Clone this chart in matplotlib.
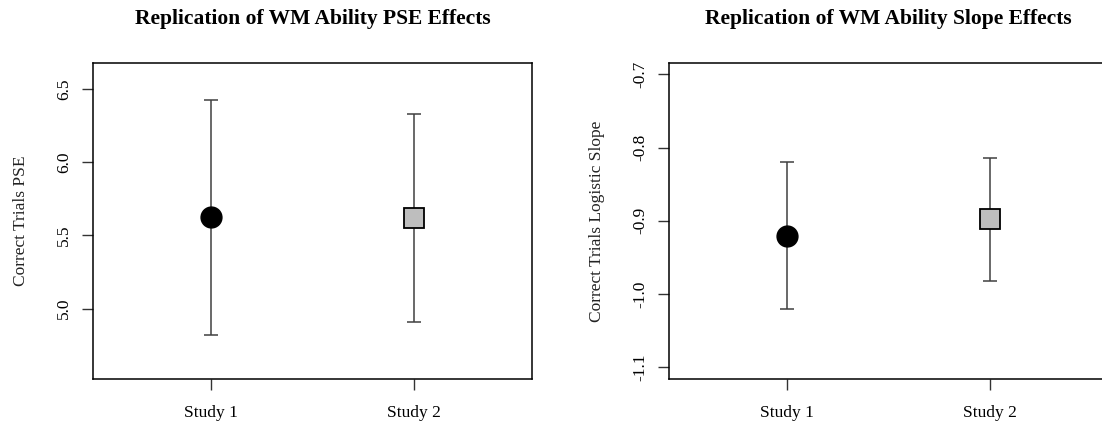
import matplotlib
matplotlib.use("Agg")
import matplotlib.pyplot as plt
import numpy as np

plt.rcParams['font.family'] = ['Liberation Serif', 'DejaVu Serif']
plt.rcParams['axes.unicode_minus'] = False

# point estimates with lower / upper interval bounds for each study
studies = ["Study 1", "Study 2"]
pse_mean = [5.625, 5.620]
pse_low = [4.820, 4.910]
pse_high = [6.425, 6.330]
slope_mean = [-0.921, -0.898]
slope_low = [-1.021, -0.982]
slope_high = [-0.820, -0.814]

fig = plt.figure(figsize=(11.02, 4.25), dpi=100)
ax1 = fig.add_axes([93 / 1102, 46 / 425, 439 / 1102, 316.3 / 425])
ax2 = fig.add_axes([669 / 1102, 46 / 425, 439 / 1102, 316.3 / 425])


def panel(ax, mean, low, high, ylim, yticks, ylabel, title):
    x = np.arange(1, len(mean) + 1)
    mean = np.array(mean)
    err = [mean - np.array(low), np.array(high) - mean]
    ax.errorbar(x, mean, yerr=err, fmt="none", ecolor="#404040",
                elinewidth=1.1, capsize=5, capthick=1.1, zorder=2)
    ax.plot(x[0], mean[0], "o", ms=15, color="black", zorder=3)
    ax.plot(x[1], mean[1], "s", ms=14, mfc="#bebebe", mec="black",
            mew=1.3, zorder=3)
    ax.set_xlim(0.42, 2.58)
    ax.set_ylim(*ylim)
    ax.set_xticks(x)
    ax.set_xticklabels(studies)
    ax.set_yticks(yticks)
    ax.set_yticklabels([f"{t:.1f}" for t in yticks], rotation=90, va="center")
    ax.tick_params(length=8, width=1.0, labelsize=12.5, color="#333333")
    ax.tick_params(axis="y", pad=7)
    ax.tick_params(axis="x", pad=11)
    for s in ax.spines.values():
        s.set_linewidth(1.1)
    ax.set_ylabel(ylabel, fontsize=12.5, color="#222222")
    ax.yaxis.set_label_coords(-0.145, 0.5)
    ax.set_title(title, fontsize=15.5, fontweight="bold", pad=28)


panel(ax1, pse_mean, pse_low, pse_high, (4.52, 6.68),
      [5.0, 5.5, 6.0, 6.5], "Correct Trials PSE",
      "Replication of WM Ability PSE Effects")
panel(ax2, slope_mean, slope_low, slope_high, (-1.116, -0.684),
      [-1.1, -1.0, -0.9, -0.8, -0.7], "Correct Trials Logistic Slope",
      "Replication of WM Ability Slope Effects")

fig.savefig("out.png", dpi=100)
